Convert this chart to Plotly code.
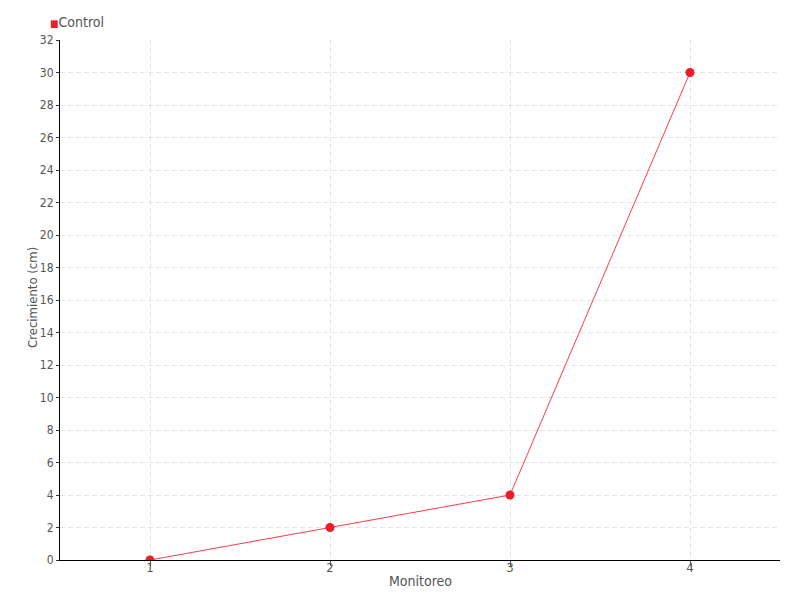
import plotly.graph_objects as go

monitoreo = [1, 2, 3, 4]
crecimiento = [0, 2, 4, 30]
series_name = "Control"
x_title = "Monitoreo"
y_title = "Crecimiento (cm)"
y_ticks = list(range(0, 33, 2))

FONT = "Liberation Sans Narrow, DejaVu Sans Condensed, Roboto, sans-serif"
RED = "#ee1c2b"
TXT = "#555555"

fig = go.Figure()
fig.add_trace(go.Scatter(
    x=monitoreo, y=crecimiento, mode="lines+markers", name=series_name,
    line=dict(color="#ff3a4a", width=1),
    marker=dict(color=RED, size=9),
    showlegend=False,
))

# legend-like label
fig.add_annotation(
    xref="paper", yref="paper", x=-0.0139, y=1.0346, xanchor="left", yanchor="middle",
    text=f"<span style='font-size:10px;color:{RED}'>■</span>{series_name}",
    showarrow=False, font=dict(size=14, color=TXT), xshift=-2,
)
# axis titles
fig.add_annotation(
    xref="paper", yref="paper", x=0.5, y=0, yshift=-21, xanchor="center", yanchor="middle",
    text=x_title, showarrow=False, font=dict(size=14, color=TXT),
)
fig.add_annotation(
    xref="paper", yref="paper", x=0, y=0.5, xshift=-28, yshift=2, xanchor="center", yanchor="middle",
    text=y_title, textangle=-90, showarrow=False, font=dict(size=13, color=TXT),
)

fig.update_layout(
    width=800, height=600,
    margin=dict(l=60, r=20, t=40, b=40, autoexpand=False),
    plot_bgcolor="white", paper_bgcolor="white",
    font=dict(family=FONT, size=14, color=TXT),
    showlegend=False,
    xaxis=dict(
        range=[0.5, 4.5], tickvals=monitoreo, ticktext=[str(v) for v in monitoreo],
        showline=True, linecolor="black", linewidth=1,
        ticks="outside", ticklen=5, tickcolor="#555555",
        ticklabelstandoff=-10, tickfont=dict(size=13),
        showgrid=True, gridcolor="#e4e4e4", griddash="5px,3px", gridwidth=1,
        zeroline=False,
    ),
    yaxis=dict(
        range=[0, 32], tickvals=y_ticks,
        showline=True, linecolor="black", linewidth=1,
        ticks="outside", ticklen=3, tickcolor="#333333",
        tickfont=dict(size=12),
        showgrid=True, gridcolor="#e4e4e4", griddash="5px,3px", gridwidth=1,
        zeroline=False,
    ),
)

fig.write_html(
    "out.html",
    config={"displayModeBar": False},
    post_script="document.body.style.margin='0';document.body.style.overflow='hidden';",
)
